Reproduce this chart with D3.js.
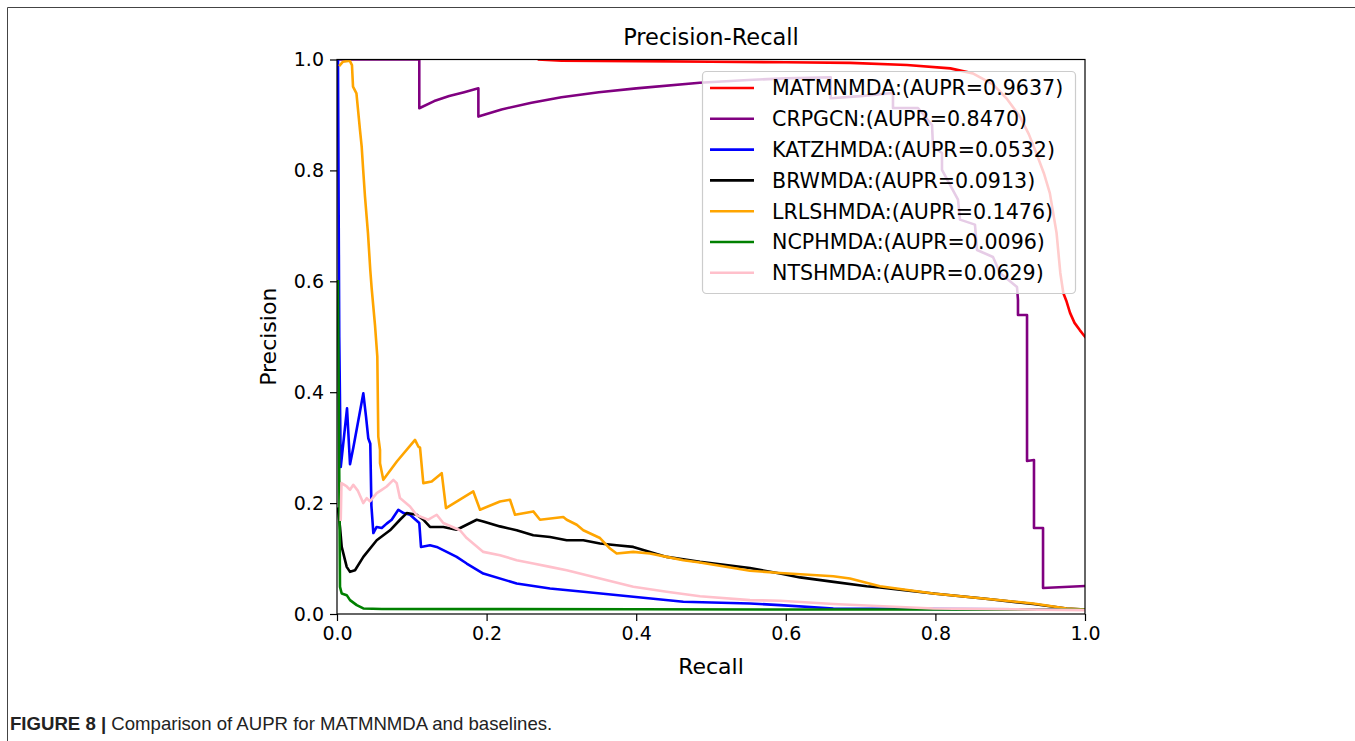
<!DOCTYPE html>
<html>
<head>
<meta charset="utf-8">
<script src="https://cdn.jsdelivr.net/npm/d3@7"></script>
<style>
  html, body { margin: 0; padding: 0; background: #fff; }
  svg { display: block; }
  .tick text { font-family: "DejaVu Sans", sans-serif; }
</style>
</head>
<body>
<svg id="chart" width="1355" height="741"></svg>
<script>
// Precision-recall curves, [recall, precision] pairs per method
const matmnmda = [[0.27,1.0],[0.30,0.998],[0.40,0.997],[0.50,0.996],[0.60,0.995],[0.686,0.994],[0.762,0.990],[0.82,0.984],[0.85,0.975],[0.877,0.955],[0.895,0.930],[0.913,0.897],[0.925,0.865],[0.935,0.831],[0.945,0.795],[0.953,0.759],[0.962,0.687],[0.967,0.615],[0.971,0.579],[0.975,0.565],[0.980,0.543],[0.986,0.525],[0.993,0.512],[1.0,0.500]];

const crpgcn = [[0,1.0],[0.110,1.0],[0.110,0.912],[0.13,0.925],[0.15,0.934],[0.17,0.941],[0.189,0.948],[0.189,0.897],[0.22,0.910],[0.26,0.922],[0.30,0.932],[0.35,0.941],[0.40,0.948],[0.485,0.958],[0.55,0.963],[0.60,0.966],[0.66,0.968],[0.66,0.930],[0.70,0.934],[0.7433,0.9396],[0.7433,0.9125],[0.7767,0.9125],[0.7955,0.8819],[0.7968,0.8422],[0.8088,0.8314],[0.8088,0.8008],[0.8302,0.7473],[0.8329,0.7112],[0.8529,0.7022],[0.8556,0.6565],[0.8770,0.6438],[0.8864,0.6150],[0.9091,0.5897],[0.9104,0.5663],[0.9104,0.5392],[0.9225,0.5392],[0.9225,0.2759],[0.9318,0.2777],[0.9318,0.1551],[0.9439,0.1551],[0.9439,0.0469],[1.0,0.0505]];

const katzhmda = [[0.0013,1.0],[0.003,0.50],[0.005,0.265],[0.0134,0.371],[0.0174,0.270],[0.0218,0.300],[0.0352,0.398],[0.0388,0.356],[0.0418,0.317],[0.0445,0.307],[0.046,0.195],[0.0486,0.146],[0.053,0.157],[0.0598,0.155],[0.0664,0.163],[0.0731,0.170],[0.0820,0.188],[0.0890,0.182],[0.0976,0.179],[0.1100,0.164],[0.1123,0.121],[0.1243,0.124],[0.1333,0.121],[0.1467,0.112],[0.1600,0.103],[0.1734,0.091],[0.1956,0.073],[0.2402,0.055],[0.2848,0.046],[0.3293,0.040],[0.3961,0.031],[0.4630,0.022],[0.5521,0.019],[0.5922,0.016],[0.6635,0.010],[0.80,0.009],[1.0,0.008]];

const brwmda = [[0.0013,0.19],[0.004,0.157],[0.0063,0.121],[0.013,0.085],[0.0174,0.076],[0.0241,0.079],[0.0352,0.103],[0.0531,0.133],[0.0709,0.151],[0.0842,0.170],[0.0932,0.182],[0.1066,0.179],[0.1154,0.170],[0.1243,0.157],[0.1421,0.157],[0.1600,0.152],[0.1868,0.170],[0.1956,0.167],[0.2179,0.158],[0.2402,0.151],[0.2624,0.142],[0.2848,0.139],[0.3071,0.133],[0.3293,0.133],[0.3516,0.127],[0.3739,0.124],[0.3961,0.121],[0.4184,0.112],[0.4408,0.103],[0.4853,0.094],[0.5521,0.083],[0.5922,0.073],[0.6190,0.066],[0.6640,0.058],[0.7081,0.050],[0.7259,0.048],[0.7972,0.037],[0.8640,0.028],[0.9309,0.018],[0.9755,0.010],[1.0,0.008]];

const lrlshmda = [[0.004,0.990],[0.008,0.996],[0.017,0.998],[0.020,0.990],[0.0214,0.951],[0.026,0.939],[0.0307,0.873],[0.033,0.843],[0.035,0.801],[0.0374,0.753],[0.0414,0.687],[0.0445,0.620],[0.0463,0.588],[0.0508,0.521],[0.0539,0.464],[0.0552,0.320],[0.0575,0.296],[0.0575,0.272],[0.0619,0.242],[0.0800,0.275],[0.1043,0.314],[0.1087,0.302],[0.1110,0.300],[0.1154,0.236],[0.1266,0.239],[0.1400,0.254],[0.1457,0.191],[0.1822,0.221],[0.1912,0.188],[0.2179,0.203],[0.2313,0.206],[0.2380,0.179],[0.2624,0.185],[0.2714,0.170],[0.3025,0.175],[0.3071,0.170],[0.3205,0.161],[0.3293,0.151],[0.3516,0.137],[0.3650,0.118],[0.3739,0.109],[0.3961,0.112],[0.4184,0.109],[0.4408,0.103],[0.4630,0.097],[0.4853,0.093],[0.5521,0.078],[0.5922,0.074],[0.6635,0.068],[0.6858,0.064],[0.7259,0.050],[0.7972,0.037],[0.8640,0.028],[0.9309,0.019],[0.9755,0.010],[1.0,0.008]];

const ncphmda = [[0.0013,0.60],[0.004,0.049],[0.0063,0.037],[0.013,0.034],[0.0174,0.025],[0.0264,0.016],[0.0352,0.010],[0.06,0.009],[0.2,0.0088],[0.4,0.0085],[0.6,0.0082],[0.8,0.008],[1.0,0.0078]];

const ntshmda = [[0.005,0.170],[0.006,0.236],[0.013,0.230],[0.0174,0.224],[0.0218,0.233],[0.028,0.222],[0.0352,0.200],[0.0397,0.209],[0.0441,0.203],[0.0531,0.218],[0.0598,0.224],[0.0664,0.230],[0.0753,0.242],[0.0798,0.236],[0.0842,0.209],[0.0976,0.194],[0.1066,0.178],[0.1220,0.170],[0.1333,0.179],[0.1421,0.164],[0.1644,0.151],[0.1734,0.137],[0.1956,0.112],[0.2179,0.106],[0.2402,0.097],[0.2624,0.091],[0.2848,0.085],[0.3071,0.079],[0.3516,0.064],[0.3961,0.049],[0.4408,0.040],[0.4853,0.032],[0.5521,0.025],[0.5922,0.024],[0.6635,0.018],[0.7972,0.010],[1.0,0.007]];

const methodNames = ["MATMNMDA", "CRPGCN", "KATZHMDA", "BRWMDA", "LRLSHMDA", "NCPHMDA", "NTSHMDA"];
const auprValues = ["0.9637", "0.8470", "0.0532", "0.0913", "0.1476", "0.0096", "0.0629"];
const lineColors = ["#ff0000", "#800080", "#0000ff", "#000000", "#ffa500", "#008000", "#ffc0cb"];
const curves = [matmnmda, crpgcn, katzhmda, brwmda, lrlshmda, ncphmda, ntshmda];

const recallTicks = [0.0, 0.2, 0.4, 0.6, 0.8, 1.0];
const precisionTicks = [0.0, 0.2, 0.4, 0.6, 0.8, 1.0];

const svg = d3.select("#chart");

// figure frame (left and top rules)
svg.append("path")
  .attr("d", "M7.5,741 V7.5 H1355")
  .attr("fill", "none")
  .attr("stroke", "#444")
  .attr("stroke-width", 1);

const plot = { left: 337, right: 1085, top: 59.5, bottom: 614 };
const x = d3.scaleLinear().domain([0, 1]).range([plot.left, plot.right]);
const y = d3.scaleLinear().domain([0, 1]).range([plot.bottom, plot.top]);

svg.append("defs").append("clipPath").attr("id", "plot-clip")
  .append("rect")
  .attr("x", plot.left).attr("y", plot.top)
  .attr("width", plot.right - plot.left).attr("height", plot.bottom - plot.top);

const line = d3.line().x(d => x(d[0])).y(d => y(d[1]));

svg.append("g").attr("clip-path", "url(#plot-clip)")
  .selectAll("path")
  .data(curves)
  .join("path")
  .attr("d", line)
  .attr("fill", "none")
  .attr("stroke", (d, i) => lineColors[i])
  .attr("stroke-width", 2.6)
  .attr("stroke-linejoin", "round")
  .attr("stroke-linecap", "square");

// axes
const fmt = d3.format(".1f");
const xAxis = svg.append("g")
  .attr("transform", `translate(0,${plot.bottom})`)
  .call(d3.axisBottom(x).tickValues(recallTicks).tickFormat(fmt).tickSize(7).tickPadding(6).tickSizeOuter(0));
const yAxis = svg.append("g")
  .attr("transform", `translate(${plot.left},0)`)
  .call(d3.axisLeft(y).tickValues(precisionTicks).tickFormat(fmt).tickSize(7).tickPadding(6).tickSizeOuter(0));
[xAxis, yAxis].forEach(a => {
  a.select(".domain").remove();
  a.selectAll(".tick line").attr("stroke", "#000").attr("stroke-width", 1.2);
  a.selectAll(".tick text").attr("font-size", 19).attr("fill", "#000");
});

// spines
svg.append("rect")
  .attr("x", plot.left).attr("y", plot.top)
  .attr("width", plot.right - plot.left).attr("height", plot.bottom - plot.top)
  .attr("fill", "none").attr("stroke", "#000").attr("stroke-width", 1.2);

// titles
svg.append("text")
  .attr("x", (plot.left + plot.right) / 2).attr("y", 45)
  .attr("text-anchor", "middle")
  .attr("font-family", "DejaVu Sans, sans-serif").attr("font-size", 22.5)
  .text("Precision-Recall");
svg.append("text")
  .attr("x", (plot.left + plot.right) / 2).attr("y", 674)
  .attr("text-anchor", "middle")
  .attr("font-family", "DejaVu Sans, sans-serif").attr("font-size", 22)
  .text("Recall");
svg.append("text")
  .attr("transform", `translate(276,${(plot.top + plot.bottom) / 2}) rotate(-90)`)
  .attr("text-anchor", "middle")
  .attr("font-family", "DejaVu Sans, sans-serif").attr("font-size", 22)
  .text("Precision");

// legend
const legend = svg.append("g");
legend.append("rect")
  .attr("x", 702.5).attr("y", 71.5).attr("width", 373).attr("height", 222)
  .attr("rx", 4).attr("ry", 4)
  .attr("fill", "#fff").attr("fill-opacity", 0.8)
  .attr("stroke", "#cccccc").attr("stroke-width", 1.2);
const rowY = i => 88 + i * 30.8;
legend.selectAll("line.key")
  .data(methodNames)
  .join("line")
  .attr("class", "key")
  .attr("x1", 710).attr("x2", 754)
  .attr("y1", (d, i) => rowY(i)).attr("y2", (d, i) => rowY(i))
  .attr("stroke", (d, i) => lineColors[i])
  .attr("stroke-width", 2.6);
legend.selectAll("text.label")
  .data(methodNames)
  .join("text")
  .attr("class", "label")
  .attr("x", 772).attr("y", (d, i) => rowY(i))
  .attr("dy", "0.36em")
  .attr("font-family", "DejaVu Sans, sans-serif").attr("font-size", 20.6)
  .text((d, i) => `${d}:(AUPR=${auprValues[i]})`);

// caption
const cap = svg.append("text")
  .attr("x", 10).attr("y", 730)
  .attr("font-family", "Liberation Sans, Arial, sans-serif").attr("font-size", 18.6)
  .attr("fill", "#222");
cap.append("tspan").attr("font-weight", "bold").text("FIGURE 8 | ");
cap.append("tspan").text("Comparison of AUPR for MATMNMDA and baselines.");
</script>
</body>
</html>
